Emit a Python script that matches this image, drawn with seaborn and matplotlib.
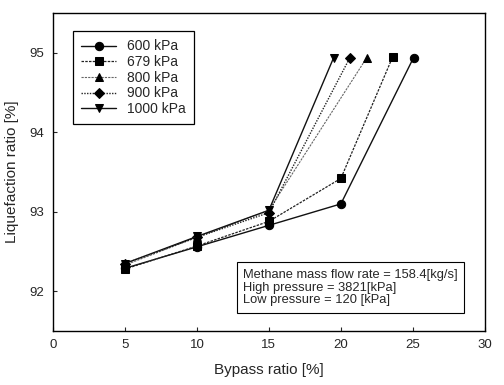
import matplotlib
matplotlib.use("Agg")
import matplotlib.pyplot as plt
import seaborn as sns
import pandas as pd

sns.set_style("ticks")
plt.rcParams['font.family'] = ['Liberation Sans', 'DejaVu Sans']

labels = ["600 kPa", "679 kPa", "800 kPa", "900 kPa", "1000 kPa"]
x_600 = [5, 10, 15, 20, 25.05]
y_600 = [92.29, 92.56, 92.83, 93.10, 94.94]
x_679 = [5, 10, 15, 20, 23.6]
y_679 = [92.28, 92.57, 92.88, 93.42, 94.95]
x_800 = [5, 10, 15, 21.8]
y_800 = [92.33, 92.68, 93.02, 94.94]
x_900 = [5, 10, 15, 20.6]
y_900 = [92.35, 92.68, 92.99, 94.93]
x_1000 = [5, 10, 15, 19.5]
y_1000 = [92.35, 92.69, 93.02, 94.94]

xs = [x_600, x_679, x_800, x_900, x_1000]
ys = [y_600, y_679, y_800, y_900, y_1000]
markers = ["o", "s", "^", "D", "v"]
msizes = [6, 5.5, 5.5, 5, 6]
lstyles = ["-", (0, (2, 1)), (0, (2, 1)), (0, (1, 1)), "-"]
colors = ["#111111", "#222222", "#666666", "#222222", "#111111"]
lwidths = [1.0, 0.9, 0.8, 1.0, 1.0]

fig, ax = plt.subplots(figsize=(5.04, 3.85), dpi=100)
fig.subplots_adjust(left=0.105, right=0.962, top=0.966, bottom=0.14)

for i in range(5):
    df = pd.DataFrame({"x": xs[i], "y": ys[i]})
    sns.lineplot(data=df, x="x", y="y", ax=ax, color=colors[i], marker=markers[i],
                 markersize=msizes[i], linestyle=lstyles[i],
                 linewidth=lwidths[i], markeredgecolor="black", markerfacecolor="black",
                 label=labels[i], sort=False)

ax.set_xlim(0, 30)
ax.set_ylim(91.5, 95.5)
ax.set_xticks([0, 5, 10, 15, 20, 25, 30])
ax.set_yticks([92, 93, 94, 95])
ax.tick_params(direction="in", length=3, labelsize=9.5, width=0.8, pad=6)
for s in ax.spines.values():
    s.set_linewidth(1.0)
    s.set_color("black")
    s.set_visible(True)
ax.set_xlabel("Bypass ratio [%]", fontsize=11, labelpad=8)
ax.set_ylabel("Liquefaction ratio [%]", fontsize=11, labelpad=8)

leg = ax.legend(loc="upper left", bbox_to_anchor=(0.03, 0.965), fontsize=10,
                frameon=True, fancybox=False, edgecolor="black", framealpha=1,
                handlelength=2.5, borderpad=0.6, labelspacing=0.12)
leg.get_frame().set_linewidth(0.9)

ax.text(0.44, 0.137,
        "Methane mass flow rate = 158.4[kg/s]\nHigh pressure = 3821[kPa]\nLow pressure = 120 [kPa]",
        transform=ax.transAxes, fontsize=9.3, va="center", ha="left", linespacing=1.1,
        bbox=dict(boxstyle="square,pad=0.5", facecolor="white", edgecolor="black", linewidth=0.8))

fig.savefig("out.png", dpi=100)
